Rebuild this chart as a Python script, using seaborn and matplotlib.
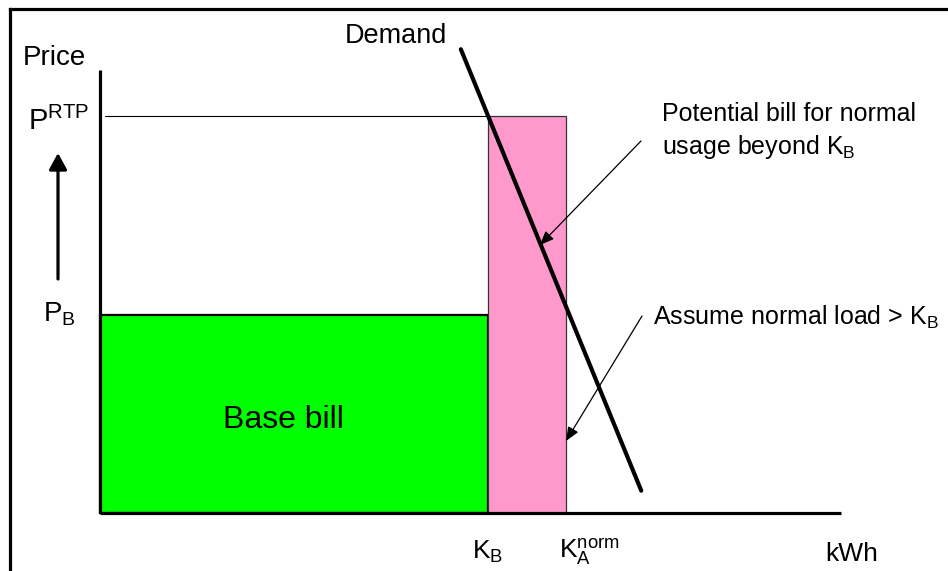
import matplotlib
matplotlib.use("Agg")
import matplotlib.pyplot as plt
from matplotlib.lines import Line2D
import seaborn as sns

# Quantities (kWh on x, price on y)
K_B = 4.0          # base quantity
K_A_NORM = 4.8     # normal load
P_B = 4.0          # base price
P_RTP = 8.0        # real-time price

bar_left = [0.0, K_B]
bar_width = [K_B, K_A_NORM - K_B]
bar_height = [P_B, P_RTP]
bar_colors = ["#00FF00", "#FF99CC"]

demand_kwh = [3.72, 5.58]
demand_price = [9.35, 0.45]

# axis extents
X_END = 7.64
Y_TOP = 8.93

sns.set_theme(style="white")
plt.rcParams["font.family"] = ["Liberation Sans", "DejaVu Sans"]
plt.rcParams["mathtext.fontset"] = "custom"
plt.rcParams["mathtext.rm"] = "Liberation Sans"
plt.rcParams["mathtext.it"] = "Liberation Sans:italic"
plt.rcParams["mathtext.bf"] = "Liberation Sans:bold"

W, H = 948, 571
fig = plt.figure(figsize=(W / 100, H / 100), dpi=100)
ax = fig.add_axes([0, 0, 1, 1])
ax.axis("off")

# pixel layout -> data coordinates
OX, OY, SX, SY = 100, 513, 97.0, 49.6
ax.set_xlim(-OX / SX, (W - OX) / SX)
ax.set_ylim(-(H - OY) / SY, OY / SY)


def px(x, y):
    return ((x - OX) / SX, (OY - y) / SY)


# outer frame (top and left edges)
fig.add_artist(Line2D([9.5 / W, 9.5 / W], [0, 1 - 8.5 / H], transform=fig.transFigure,
                      color="black", lw=2.3, solid_capstyle="projecting"))
fig.add_artist(Line2D([9.5 / W, 1], [1 - 8.5 / H, 1 - 8.5 / H], transform=fig.transFigure,
                      color="black", lw=2.3, solid_capstyle="projecting"))

# bill rectangles
bars = ax.bar(bar_left, bar_height, width=bar_width, align="edge",
              color=bar_colors, zorder=2)
bars[0].set_edgecolor("black")
bars[0].set_linewidth(1.6)
bars[1].set_edgecolor("#333333")
bars[1].set_linewidth(0.9)

# thin guide at the real-time price
ax.plot([px(105, 0)[0], K_B], [P_RTP, P_RTP], color="black", lw=0.8, zorder=3)

# axes
ax.plot([0, 0], [0, Y_TOP], color="black", lw=2.3, solid_capstyle="butt", zorder=4)
ax.plot([0, X_END], [0, 0], color="black", lw=2.3, solid_capstyle="butt", zorder=4)

# demand curve
sns.lineplot(x=demand_kwh, y=demand_price, color="black", lw=3, ax=ax, zorder=5,
             sort=False)

# price direction arrow
ax.annotate("", xy=px(58, 153), xytext=px(58, 279),
            arrowprops=dict(arrowstyle="-|>,head_length=0.55,head_width=0.3",
                            lw=2.3, color="black", mutation_scale=18,
                            shrinkA=0, shrinkB=0))

# callout arrows
thin = dict(arrowstyle="-|>,head_length=0.6,head_width=0.25", lw=0.9,
            color="black", mutation_scale=14, shrinkA=0, shrinkB=0)
ax.annotate("", xy=px(540, 245), xytext=px(641, 141), arrowprops=thin, zorder=6)
ax.annotate("", xy=px(566, 441), xytext=px(642, 316), arrowprops=thin, zorder=6)

# labels
def label(x, y, s, size, ha="left"):
    ax.text(*px(x, y), s, fontsize=size, ha=ha, va="baseline", color="black", zorder=7)


label(23, 65, "Price", 20)
label(28, 130, r"P$^{\mathrm{RTP}}$", 21)
label(43, 322, r"P$_{\mathrm{B}}$", 20)
label(283, 428, "Base bill", 23, ha="center")
label(345, 43, "Demand", 19.5)
label(662, 121, "Potential bill for normal", 18)
label(662, 154, r"usage beyond K$_{\mathrm{B}}$", 18)
label(653, 325, r"Assume normal load > K$_{\mathrm{B}}$", 18)
label(472, 559, r"K$_{\mathrm{B}}$", 19)
label(559, 559, r"K$_{\mathrm{A}}^{\mathrm{norm}}$", 19)
label(825, 561, "kWh", 19)

fig.savefig("out.png", dpi=100)
